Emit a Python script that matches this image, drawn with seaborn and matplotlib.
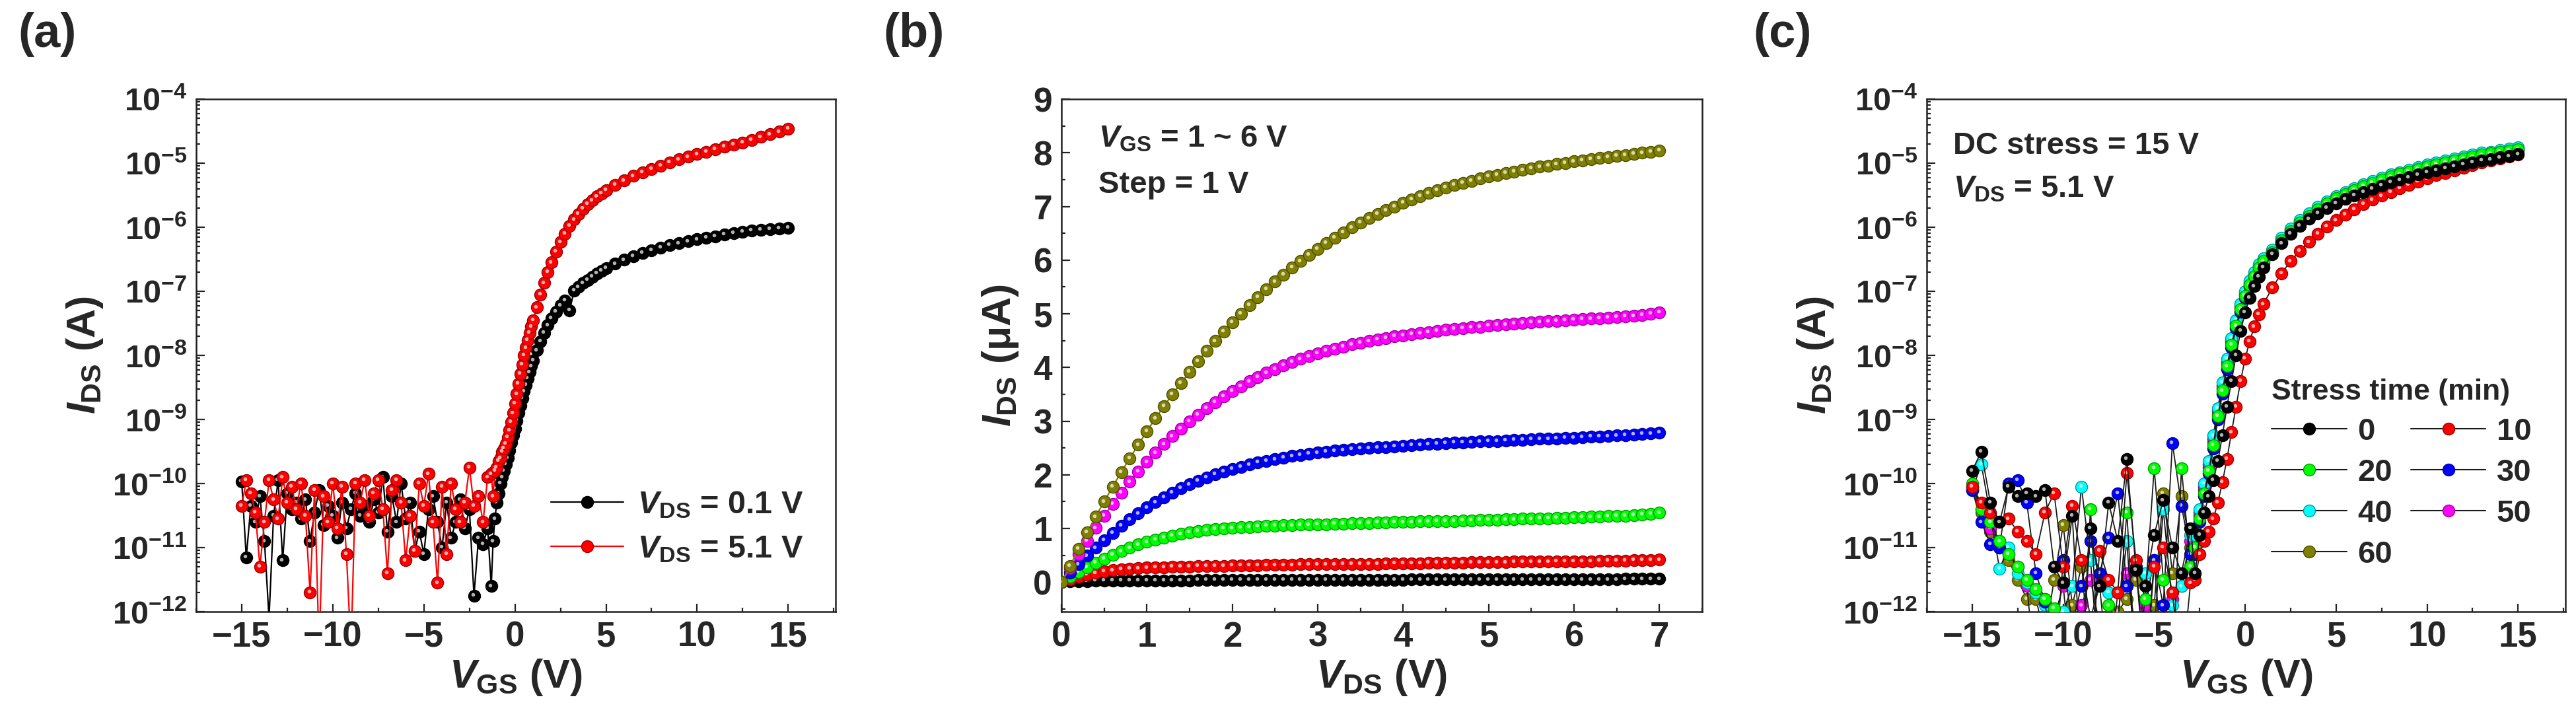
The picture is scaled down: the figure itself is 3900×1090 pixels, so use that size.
import numpy as np
import matplotlib
matplotlib.use("Agg")
import matplotlib.pyplot as plt
import matplotlib.colors as mcolors
from matplotlib.lines import Line2D
from matplotlib.ticker import LogLocator, MultipleLocator, NullFormatter
from matplotlib.transforms import ScaledTranslation
import seaborn as sns

# ---------------- panel (a): transfer curves, log10(I_DS / A) ----------------
vgs_a = [-15.0, -14.75, -14.5, -14.25, -14.0, -13.75, -13.5, -13.25, -13.0, -12.75,
         -12.5, -12.25, -12.0, -11.75, -11.5, -11.25, -11.0, -10.75, -10.5, -10.25,
         -10.0, -9.75, -9.5, -9.25, -9.0, -8.75, -8.5, -8.25, -8.0, -7.75,
         -7.5, -7.25, -7.0, -6.75, -6.5, -6.25, -6.0, -5.75, -5.5, -5.25,
         -5.0, -4.75, -4.5, -4.25, -4.0, -3.75, -3.5, -3.25, -3.0, -2.75,
         -2.5, -2.25, -2.0, -1.75, -1.5,
         -1.3, -1.2, -1.1, -1.0, -0.9, -0.8, -0.7, -0.6, -0.5, -0.4,
         -0.3, -0.2, -0.1, 0.0, 0.1, 0.2, 0.3, 0.4, 0.5, 0.6,
         0.7, 0.8, 0.9, 1.0, 1.2, 1.4, 1.6, 1.8, 2.0,
         2.25, 2.5, 2.75, 3.0, 3.25, 3.5, 3.75, 4.0, 4.25, 4.5, 4.75, 5.0,
         5.5, 6.0, 6.5, 7.0, 7.5, 8.0, 8.5, 9.0, 9.5, 10.0,
         10.5, 11.0, 11.5, 12.0, 12.5, 13.0, 13.5, 14.0, 14.5, 15.0]

log_ids_vds01 = [-9.97, -11.15, -10.35, -10.6, -10.2, -10.9, -12.1, -10.5, -9.95, -11.2,
                 -10.15, -10.4, -10.3, -10.55, -10.25, -10.9, -10.45, -10.1, -10.65, -10.35,
                 -10.5, -10.85, -10.3, -10.7, -10.4, -10.15, -10.5, -10.35, -10.6, -10.25,
                 -10.45, -9.9, -10.75, -10.2, -10.6, -10.0, -10.55, -10.3, -11.05, -10.75,
                 -11.1, -10.4, -10.2, -10.6, -11.0, -10.3, -10.85, -10.6, -10.25, -10.7,
                 -10.4, -11.75, -10.85, -10.95, -10.7,
                 -11.6, -10.9, -10.55, -10.3, -10.15, -10.0, -9.9, -9.8, -9.7, -9.6,
                 -9.48, -9.36, -9.25, -9.14, -9.02, -8.9, -8.78, -8.67, -8.56, -8.46,
                 -8.36, -8.26, -8.17, -8.08, -7.92, -7.78, -7.65, -7.53, -7.42,
                 -7.32, -7.22, -7.14, -7.3, -6.99, -6.93, -6.87, -6.82, -6.77, -6.72, -6.68, -6.64,
                 -6.57, -6.51, -6.45, -6.40, -6.36, -6.32, -6.28, -6.25, -6.22, -6.19,
                 -6.16, -6.14, -6.11, -6.09, -6.07, -6.05, -6.04, -6.03, -6.02, -6.01]

log_ids_vds51 = [-10.35, -9.95, -10.15, -10.45, -11.3, -10.6, -9.95, -10.25, -10.55, -9.9,
                 -10.3, -10.05, -10.4, -10.0, -10.5, -11.7, -10.1, -12.6, -10.2, -10.6,
                 -10.0, -10.7, -10.05, -11.1, -12.6, -10.0, -10.3, -9.95, -10.5, -10.15,
                 -9.95, -10.4, -11.4, -10.1, -9.95, -10.3, -11.2, -10.5, -11.05, -10.0,
                 -10.35, -9.85, -10.6, -11.55, -10.05, -11.1, -10.0, -10.4, -10.6, -10.3,
                 -9.75, -10.35, -10.2, -10.6, -9.9,
                 -9.85, -10.2, -9.8, -9.75, -9.65, -9.6, -9.5, -9.45, -9.38, -9.28,
                 -9.17, -9.04, -8.9, -8.75, -8.6, -8.44, -8.29, -8.14, -8.0, -7.88,
                 -7.76, -7.65, -7.55, -7.45, -7.25, -7.05, -6.87, -6.70, -6.55,
                 -6.38, -6.23, -6.10, -5.98, -5.88, -5.79, -5.71, -5.64, -5.58, -5.52, -5.47, -5.42,
                 -5.34, -5.27, -5.20, -5.14, -5.09, -5.04, -4.99, -4.94, -4.90, -4.86,
                 -4.82, -4.78, -4.74, -4.71, -4.68, -4.64, -4.59, -4.55, -4.51, -4.46]

legend_a = ["0.1", "5.1"]

# ---------------- panel (b): output curves, I_DS in uA ----------------
vds_b = [0.0, 0.1, 0.2, 0.3, 0.4, 0.5, 0.6, 0.7, 0.8, 0.9,
         1.0, 1.1, 1.2, 1.3, 1.4, 1.5, 1.6, 1.7, 1.8, 1.9,
         2.0, 2.1, 2.2, 2.3, 2.4, 2.5, 2.6, 2.7, 2.8, 2.9,
         3.0, 3.1, 3.2, 3.3, 3.4, 3.5, 3.6, 3.7, 3.8, 3.9,
         4.0, 4.1, 4.2, 4.3, 4.4, 4.5, 4.6, 4.7, 4.8, 4.9,
         5.0, 5.1, 5.2, 5.3, 5.4, 5.5, 5.6, 5.7, 5.8, 5.9,
         6.0, 6.1, 6.2, 6.3, 6.4, 6.5, 6.6, 6.7, 6.8, 6.9, 7.0]

ids_vgs1 = [0.00, 0.01, 0.02, 0.02, 0.03, 0.03, 0.03, 0.03, 0.03, 0.03,
            0.03, 0.03, 0.03, 0.03, 0.03, 0.03, 0.04, 0.04, 0.04, 0.04,
            0.04, 0.04, 0.04, 0.04, 0.04, 0.04, 0.04, 0.04, 0.04, 0.04,
            0.04, 0.04, 0.04, 0.04, 0.04, 0.04, 0.04, 0.04, 0.04, 0.04,
            0.04, 0.05, 0.05, 0.05, 0.05, 0.05, 0.05, 0.05, 0.05, 0.05,
            0.05, 0.05, 0.05, 0.05, 0.05, 0.05, 0.05, 0.05, 0.05, 0.05,
            0.05, 0.05, 0.05, 0.05, 0.05, 0.05, 0.06, 0.06, 0.06, 0.06, 0.06]
ids_vgs2 = [0.00, 0.05, 0.10, 0.14, 0.17, 0.20, 0.22, 0.24, 0.25, 0.26,
            0.27, 0.28, 0.28, 0.29, 0.29, 0.29, 0.30, 0.30, 0.30, 0.30,
            0.31, 0.31, 0.31, 0.31, 0.32, 0.32, 0.32, 0.32, 0.33, 0.33,
            0.33, 0.33, 0.33, 0.34, 0.34, 0.34, 0.34, 0.34, 0.35, 0.35,
            0.35, 0.35, 0.35, 0.36, 0.36, 0.36, 0.36, 0.36, 0.37, 0.37,
            0.37, 0.37, 0.37, 0.38, 0.38, 0.38, 0.38, 0.38, 0.39, 0.39,
            0.39, 0.39, 0.39, 0.40, 0.40, 0.40, 0.40, 0.41, 0.41, 0.41, 0.42]
ids_vgs3 = [0.00, 0.10, 0.19, 0.28, 0.36, 0.44, 0.51, 0.58, 0.64, 0.70,
            0.75, 0.79, 0.83, 0.87, 0.90, 0.93, 0.95, 0.97, 0.99, 1.00,
            1.01, 1.02, 1.03, 1.04, 1.05, 1.05, 1.06, 1.06, 1.07, 1.07,
            1.08, 1.08, 1.09, 1.09, 1.10, 1.10, 1.10, 1.11, 1.11, 1.12,
            1.12, 1.12, 1.13, 1.13, 1.14, 1.14, 1.14, 1.15, 1.15, 1.16,
            1.16, 1.16, 1.17, 1.17, 1.18, 1.18, 1.19, 1.19, 1.20, 1.20,
            1.21, 1.21, 1.22, 1.22, 1.23, 1.24, 1.24, 1.25, 1.26, 1.27, 1.29]
ids_vgs4 = [0.00, 0.17, 0.33, 0.49, 0.64, 0.78, 0.92, 1.05, 1.17, 1.28,
            1.39, 1.49, 1.58, 1.67, 1.75, 1.82, 1.89, 1.95, 2.01, 2.06,
            2.11, 2.15, 2.19, 2.23, 2.26, 2.29, 2.32, 2.35, 2.37, 2.39,
            2.41, 2.43, 2.45, 2.46, 2.48, 2.49, 2.50, 2.51, 2.52, 2.53,
            2.54, 2.55, 2.56, 2.57, 2.58, 2.59, 2.60, 2.60, 2.61, 2.62,
            2.63, 2.63, 2.64, 2.65, 2.65, 2.66, 2.67, 2.67, 2.68, 2.69,
            2.69, 2.70, 2.71, 2.71, 2.72, 2.73, 2.74, 2.75, 2.76, 2.77, 2.79]
ids_vgs5 = [0.00, 0.26, 0.52, 0.77, 1.01, 1.24, 1.46, 1.67, 1.87, 2.06,
            2.24, 2.41, 2.57, 2.72, 2.86, 3.00, 3.12, 3.24, 3.35, 3.46,
            3.56, 3.65, 3.74, 3.82, 3.90, 3.97, 4.04, 4.10, 4.16, 4.21,
            4.26, 4.31, 4.35, 4.39, 4.43, 4.46, 4.49, 4.52, 4.55, 4.58,
            4.60, 4.62, 4.64, 4.66, 4.68, 4.70, 4.72, 4.73, 4.75, 4.76,
            4.78, 4.79, 4.80, 4.82, 4.83, 4.84, 4.85, 4.86, 4.87, 4.88,
            4.89, 4.90, 4.91, 4.92, 4.93, 4.94, 4.95, 4.96, 4.98, 5.00, 5.03]
ids_vgs6 = [0.00, 0.30, 0.62, 0.93, 1.22, 1.50, 1.78, 2.05, 2.31, 2.56,
            2.81, 3.05, 3.28, 3.50, 3.71, 3.92, 4.12, 4.31, 4.49, 4.67,
            4.84, 5.00, 5.16, 5.31, 5.46, 5.60, 5.73, 5.86, 5.98, 6.10,
            6.21, 6.32, 6.42, 6.52, 6.61, 6.70, 6.78, 6.86, 6.93, 7.00,
            7.07, 7.13, 7.19, 7.25, 7.30, 7.35, 7.40, 7.44, 7.48, 7.52,
            7.56, 7.59, 7.62, 7.65, 7.68, 7.71, 7.74, 7.76, 7.79, 7.81,
            7.84, 7.86, 7.88, 7.90, 7.92, 7.94, 7.96, 7.98, 8.00, 8.02, 8.04]

# ---------------- panel (c): transfer curves after DC stress ----------------
vgs_c = [-15.0, -14.5, -14.0, -13.5, -13.0, -12.5, -12.0, -11.5, -11.0, -10.5,
         -10.0, -9.5, -9.0, -8.5, -8.0, -7.5, -7.0, -6.5, -6.0, -5.5,
         -5.0, -4.5, -4.0, -3.5, -3.0,
         -2.75, -2.5, -2.25, -2.0, -1.75, -1.5, -1.25, -1.0, -0.75, -0.5,
         -0.25, 0.0, 0.25, 0.5, 0.75, 1.0,
         1.5, 2.0, 2.5, 3.0, 3.5, 4.0, 4.5, 5.0, 5.5, 6.0,
         6.5, 7.0, 7.5, 8.0, 8.5, 9.0, 9.5, 10.0, 10.5, 11.0,
         11.5, 12.0, 12.5, 13.0, 13.5, 14.0, 14.5, 15.0]

log_ids_t0 = [-9.8, -9.5, -10.3, -10.6, -10.05, -10.2, -10.15, -10.2, -10.1, -11.3,
              -11.55, -10.5, -13.0, -10.7, -11.6, -10.3, -10.9, -9.62, -11.35, -11.6,
              -10.8, -10.26, -11.0, -11.4, -10.7,
              -11.4, -10.8, -10.45, -10.2, -9.95, -9.65, -9.25, -8.8, -8.4, -8.0,
              -7.62, -7.33, -7.1, -6.92, -6.77, -6.63,
              -6.42, -6.25, -6.1, -5.98, -5.87, -5.78, -5.7, -5.63, -5.56, -5.5,
              -5.45, -5.4, -5.35, -5.3, -5.26, -5.22, -5.18, -5.14, -5.11, -5.08,
              -5.05, -5.02, -4.99, -4.96, -4.94, -4.91, -4.89, -4.86]
log_ids_t10 = [-10.05, -10.3, -10.45, -10.6, -10.55, -10.75, -10.9, -11.1, -10.45, -10.15,
               -11.3, -10.35, -11.2, -13.0, -11.05, -11.5, -11.7, -9.84, -11.2, -13.0,
               -11.3, -11.0, -11.7, -13.0, -11.55,
               -11.5, -11.1, -10.9, -10.75, -10.55, -10.3, -9.98, -9.62, -9.2, -8.8,
               -8.4, -8.05, -7.78, -7.55, -7.36, -7.2,
               -6.94, -6.72, -6.53, -6.37, -6.23, -6.1, -5.99, -5.89, -5.8, -5.72,
               -5.64, -5.57, -5.51, -5.45, -5.39, -5.34, -5.29, -5.24, -5.19, -5.15,
               -5.11, -5.07, -5.03, -4.99, -4.96, -4.93, -4.9, -4.87]
log_ids_t20 = [-10.0, -10.4, -10.6, -10.9, -11.1, -11.3, -11.5, -11.65, -11.8, -11.95,
               -13.0, -12.1, -13.0, -10.4, -13.0, -11.9, -12.2, -10.45, -13.0, -11.8,
               -9.76, -11.5, -13.0, -9.76, -11.3,
               -11.0, -10.55, -10.15, -9.8, -9.4, -8.95, -8.55, -8.17, -7.83, -7.54,
               -7.28, -7.07, -6.9, -6.76, -6.63, -6.53,
               -6.39, -6.21, -6.06, -5.93, -5.82, -5.72, -5.63, -5.55, -5.48, -5.42,
               -5.36, -5.31, -5.26, -5.21, -5.17, -5.13, -5.09, -5.05, -5.02, -4.99,
               -4.96, -4.93, -4.9, -4.87, -4.85, -4.82, -4.8, -4.78]
log_ids_t30 = [-10.1, -10.6, -10.95, -11.0, -10.0, -9.95, -10.3, -11.4, -11.85, -13.0,
               -11.2, -12.2, -11.6, -10.9, -11.4, -10.85, -10.15, -11.6, -11.3, -13.0,
               -11.2, -11.9, -9.37, -10.35, -11.1,
               -11.1, -10.6, -10.2, -9.85, -9.45, -9.0, -8.6, -8.22, -7.88, -7.58,
               -7.32, -7.1, -6.93, -6.79, -6.66, -6.56,
               -6.41, -6.23, -6.08, -5.95, -5.84, -5.74, -5.65, -5.57, -5.5, -5.44,
               -5.38, -5.33, -5.28, -5.23, -5.19, -5.15, -5.11, -5.07, -5.04, -5.01,
               -4.98, -4.95, -4.92, -4.89, -4.87, -4.84, -4.82, -4.8]
log_ids_t40 = [-10.1, -9.7, -10.5, -11.33, -11.0, -11.4, -11.55, -11.7, -11.9, -13.0,
               -12.0, -11.6, -10.05, -11.2, -13.0, -11.7, -12.1, -10.9, -13.0, -11.4,
               -12.3, -10.4, -11.9, -11.6, -10.8,
               -10.8, -10.4, -10.0, -9.65, -9.25, -8.82, -8.42, -8.05, -7.73, -7.45,
               -7.2, -7.0, -6.84, -6.7, -6.58, -6.48,
               -6.35, -6.17, -6.02, -5.89, -5.78, -5.68, -5.6, -5.52, -5.45, -5.39,
               -5.33, -5.28, -5.23, -5.18, -5.14, -5.1, -5.06, -5.02, -4.99, -4.96,
               -4.93, -4.9, -4.87, -4.84, -4.82, -4.79, -4.77, -4.75]
log_ids_t50 = [-10.05, -10.4, -10.7, -10.9, -11.1, -11.3, -11.6, -13.0, -11.8, -12.1,
               -11.6, -13.0, -11.9, -11.5, -12.2, -13.0, -11.7, -11.4, -12.3, -11.9,
               -11.2, -13.0, -11.8, -11.6, -10.9,
               -10.9, -10.45, -10.05, -9.7, -9.3, -8.87, -8.47, -8.1, -7.77, -7.48,
               -7.23, -7.03, -6.87, -6.73, -6.61, -6.51,
               -6.37, -6.19, -6.04, -5.91, -5.8, -5.7, -5.62, -5.54, -5.47, -5.41,
               -5.35, -5.3, -5.25, -5.2, -5.16, -5.12, -5.08, -5.04, -5.01, -4.98,
               -4.95, -4.92, -4.89, -4.86, -4.84, -4.81, -4.79, -4.77]
log_ids_t60 = [-10.1, -10.45, -10.75, -11.0, -11.2, -11.5, -11.8, -11.8, -12.4, -11.5,
               -10.65, -11.9, -11.3, -12.1, -11.6, -13.0, -12.0, -11.8, -11.5, -12.2,
               -11.9, -10.15, -11.4, -10.2, -11.0,
               -11.0, -10.5, -10.1, -9.75, -9.35, -8.92, -8.52, -8.14, -7.8, -7.51,
               -7.26, -7.05, -6.89, -6.75, -6.62, -6.52,
               -6.38, -6.2, -6.05, -5.92, -5.81, -5.71, -5.62, -5.54, -5.47, -5.41,
               -5.35, -5.3, -5.25, -5.2, -5.16, -5.12, -5.08, -5.04, -5.01, -4.98,
               -4.95, -4.92, -4.89, -4.86, -4.84, -4.81, -4.79, -4.78]

stress_times = ["0", "10", "20", "30", "40", "50", "60"]

# colours (Origin defaults)
BLACK, RED, GREEN, BLUE = "#000000", "#ff0000", "#00ff00", "#0000ff"
CYAN, MAGENTA, OLIVE = "#00ffff", "#ff00ff", "#808000"

W, H = 3900, 1090
MS = 13          # marker diameter, pt
TICK = 38


def darker(c, f=0.6):
    r, g, b = mcolors.to_rgb(c)
    return (r * f, g * f, b * f)


def balls(ax, fig, x, y, color, line_color, zorder, lw=1.6):
    # connecting line, ball markers and a small specular highlight
    sns.lineplot(x=x, y=y, ax=ax, color=line_color, lw=lw, sort=False,
                 estimator=None, legend=False, zorder=zorder)
    sns.scatterplot(x=x, y=y, ax=ax, color=color, s=MS ** 2,
                    edgecolor=darker(color), linewidth=1.0, legend=False,
                    zorder=zorder + 0.1)
    shift = ScaledTranslation(-1.2 / 72, 1.2 / 72, fig.dpi_scale_trans)
    ax.plot(x, y, ls="none", marker="o", ms=4.0, mfc="white", mec="none",
            alpha=0.7, transform=ax.transData + shift, zorder=zorder + 0.2)


def style_axes(ax):
    for s in ax.spines.values():
        s.set_linewidth(1.8)
        s.set_color("#222222")
    ax.tick_params(which="both", direction="in", top=False, right=False,
                   width=1.6, color="#222222")
    ax.tick_params(which="major", length=9, labelsize=TICK, pad=10)
    ax.tick_params(which="minor", length=4.5)


def log_axis(ax):
    ax.set_yscale("log")
    ax.set_ylim(1e-12, 1e-4)
    ax.yaxis.set_major_locator(LogLocator(base=10, numticks=20))
    ax.yaxis.set_minor_locator(LogLocator(base=10, subs=np.arange(2, 10), numticks=100))
    ax.yaxis.set_minor_formatter(NullFormatter())
    ax.set_xlim(-17.5, 17.6)
    ax.xaxis.set_major_locator(MultipleLocator(5))
    ax.xaxis.set_minor_locator(MultipleLocator(2.5))


def main():
    sns.set_theme(style="ticks")
    plt.rcParams["font.family"] = ["Liberation Sans", "DejaVu Sans"]
    plt.rcParams["font.weight"] = "bold"
    plt.rcParams["axes.labelweight"] = "bold"
    plt.rcParams["mathtext.fontset"] = "custom"
    plt.rcParams["mathtext.rm"] = "Liberation Sans:bold"
    plt.rcParams["mathtext.it"] = "Liberation Sans:italic:bold"
    plt.rcParams["mathtext.bf"] = "Liberation Sans:bold"
    plt.rcParams["mathtext.sf"] = "Liberation Sans:bold"
    plt.rcParams["mathtext.default"] = "regular"
    plt.rcParams["axes.unicode_minus"] = True

    fig = plt.figure(figsize=(W / 100, H / 100), dpi=100)
    bottom, height = (H - 926) / H, 776 / H
    ax_a = fig.add_axes([297 / W, bottom, 968 / W, height])
    ax_b = fig.add_axes([1607 / W, bottom, 970 / W, height])
    ax_c = fig.add_axes([2917 / W, bottom, 967 / W, height])

    # ---- (a)
    log_axis(ax_a)
    x_a = np.array(vgs_a)
    balls(ax_a, fig, x_a, 10 ** np.array(log_ids_vds01), BLACK, BLACK, 3)
    balls(ax_a, fig, x_a, 10 ** np.array(log_ids_vds51), RED, RED, 4)
    style_axes(ax_a)
    ax_a.tick_params(axis="y", which="major", labelsize=35)
    ax_a.set_xlabel(r"$\mathit{V}_{\mathrm{GS}}$ (V)", fontsize=44, labelpad=4)
    ax_a.set_ylabel(r"$\mathit{I}_{\mathrm{DS}}$ (A)", fontsize=44, labelpad=8)
    handles_a = [Line2D([], [], color=c, lw=1.6, marker="o", ms=MS, mfc=c,
                        mec=darker(c), mew=1.0) for c in (BLACK, RED)]
    labels_a = [r"$\mathit{V}_{\mathrm{DS}}$ = %s V" % v for v in legend_a]
    ax_a.legend(handles_a, labels_a, loc="center left", bbox_to_anchor=(0.555, 0.165),
                frameon=False, fontsize=35, handlelength=2.25, handletextpad=0.45,
                labelspacing=0.45, borderpad=0, borderaxespad=0)

    # ---- (b)
    x_b = np.array(vds_b)
    curves_b = [(ids_vgs1, BLACK), (ids_vgs2, RED), (ids_vgs3, GREEN),
                (ids_vgs4, BLUE), (ids_vgs5, MAGENTA), (ids_vgs6, OLIVE)]
    for i, (vals, col) in enumerate(curves_b):
        balls(ax_b, fig, x_b, np.array(vals), col, col, 3 + i)
    ax_b.set_xlim(0, 7.5)
    ax_b.set_ylim(-0.55, 9)
    ax_b.xaxis.set_major_locator(MultipleLocator(1))
    ax_b.xaxis.set_minor_locator(MultipleLocator(0.5))
    ax_b.yaxis.set_major_locator(MultipleLocator(1))
    ax_b.yaxis.set_minor_locator(MultipleLocator(0.5))
    style_axes(ax_b)
    ax_b.tick_params(axis="y", which="major", labelsize=37)
    ax_b.set_xlabel(r"$\mathit{V}_{\mathrm{DS}}$ (V)", fontsize=44, labelpad=4)
    ax_b.set_ylabel(r"$\mathit{I}_{\mathrm{DS}}$ (μA)", fontsize=44, labelpad=14)
    ax_b.text(0.058, 0.907, r"$\mathit{V}_{\mathrm{GS}}$ = 1 ~ 6 V", transform=ax_b.transAxes,
              fontsize=34, va="baseline", ha="left")
    ax_b.text(0.058, 0.817, "Step = 1 V", transform=ax_b.transAxes,
              fontsize=34, va="baseline", ha="left")

    # ---- (c)
    log_axis(ax_c)
    x_c = np.array(vgs_c)
    curves_c = {"0": (log_ids_t0, BLACK), "10": (log_ids_t10, RED),
                "20": (log_ids_t20, GREEN), "30": (log_ids_t30, BLUE),
                "40": (log_ids_t40, CYAN), "50": (log_ids_t50, MAGENTA),
                "60": (log_ids_t60, OLIVE)}
    draw_order = ["60", "50", "40", "30", "20", "10", "0"]
    for i, key in enumerate(draw_order):
        vals, col = curves_c[key]
        balls(ax_c, fig, x_c, 10 ** np.array(vals), col, "#1a1a1a", 3 + i, lw=1.3)
    style_axes(ax_c)
    ax_c.tick_params(axis="y", which="major", labelsize=35)
    ax_c.set_xlabel(r"$\mathit{V}_{\mathrm{GS}}$ (V)", fontsize=44, labelpad=4)
    ax_c.set_ylabel(r"$\mathit{I}_{\mathrm{DS}}$ (A)", fontsize=44, labelpad=8)
    ax_c.text(0.041, 0.893, "DC stress = 15 V", transform=ax_c.transAxes,
              fontsize=34, va="baseline", ha="left")
    ax_c.text(0.041, 0.808, r"$\mathit{V}_{\mathrm{DS}}$ = 5.1 V", transform=ax_c.transAxes,
              fontsize=34, va="baseline", ha="left")
    # legend laid out row by row: column-major order for ncol=2
    order = ["0", "20", "40", "60", "10", "30", "50"]
    handles_c = [Line2D([], [], color="#1a1a1a", lw=1.5, marker="o", ms=MS,
                        mfc=curves_c[k][1], mec=darker(curves_c[k][1]), mew=1.0)
                 for k in order]
    leg = ax_c.legend(handles_c, order, ncol=2, loc="upper left",
                      bbox_to_anchor=(0.54, 0.455), frameon=False, fontsize=34,
                      title="Stress time (min)", title_fontproperties={"size": 32, "weight": "bold"},
                      handlelength=2.4, handletextpad=0.35, columnspacing=0.6,
                      labelspacing=0.38, borderpad=0, borderaxespad=0)
    leg._legend_box.align = "left"

    for lab, x in (("(a)", 27), ("(b)", 1337), ("(c)", 2654)):
        fig.text(x / W, 1 - 18 / H, lab, fontsize=52, va="top", ha="left", weight="bold")

    fig.savefig("out.png", dpi=100, facecolor="white")
    plt.close(fig)


if __name__ == "__main__":
    main()
